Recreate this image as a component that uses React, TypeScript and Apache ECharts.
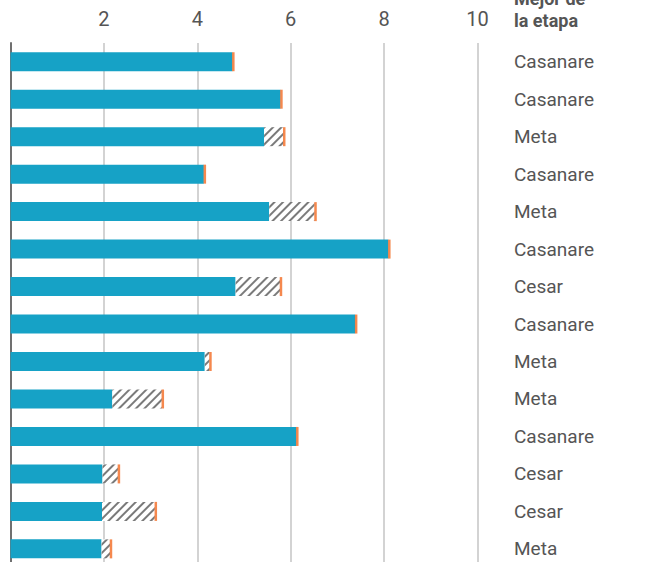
import React, { useEffect, useRef } from "react";
import * as echarts from "echarts";

const regions = [
  "Casanare", "Casanare", "Meta", "Casanare", "Meta", "Casanare", "Cesar",
  "Casanare", "Meta", "Meta", "Casanare", "Cesar", "Cesar", "Meta",
];
const baseValues = [4.75, 5.78, 5.43, 4.14, 5.54, 8.09, 4.82, 7.38, 4.16, 2.18, 6.12, 1.97, 1.96, 1.95];
const topValues = [4.75, 5.78, 5.84, 4.14, 6.51, 8.09, 5.77, 7.38, 4.26, 3.24, 6.12, 2.3, 3.09, 2.13];
const xTicks = [0, 2, 4, 6, 8, 10];
const headerText = "Mejor de\nla etapa";

const FONT = "Roboto";

export default function App() {
  const ref = useRef<HTMLDivElement>(null);
  useEffect(() => {
    if (!ref.current) return;
    const chart = echarts.init(ref.current, null, { renderer: "svg" });
    const cats = regions.map((_, i) => String(i));
    const hatch = topValues.map((t, i) => +(t - baseValues[i]).toFixed(3));
    chart.setOption({
      animation: false,
      grid: { left: 10.5, top: 43, width: 467, height: 524.6, containLabel: false },
      xAxis: {
        type: "value",
        position: "top",
        min: xTicks[0],
        max: xTicks[xTicks.length - 1],
        interval: 2,
        axisLine: { show: false },
        axisTick: { show: false },
        axisLabel: {
          fontFamily: FONT,
          fontSize: 20,
          color: "#555",
          margin: 14,
          formatter: (v: number) => (v === 0 ? "" : String(v)),
        },
        splitLine: { show: true, lineStyle: { color: "#c4c4c4", width: 1.5 } },
      },
      yAxis: [
        {
          type: "category",
          data: cats,
          inverse: true,
          position: "left",
          axisLine: { show: true, lineStyle: { color: "#707070", width: 2 } },
          axisTick: { show: false },
          axisLabel: { show: false },
        },
        {
          type: "category",
          data: cats,
          inverse: true,
          position: "right",
          axisLine: { show: false },
          axisTick: { show: false },
          axisLabel: {
            fontFamily: FONT,
            fontSize: 19,
            color: "#555",
            align: "left",
            margin: 36.5,
            formatter: (v: string) => regions[Number(v)],
          },
        },
      ],
      graphic: [
        {
          type: "text",
          left: 514,
          top: -13,
          style: {
            text: headerText,
            fontFamily: FONT,
            fontWeight: "bold",
            fontSize: 18,
            lineHeight: 22,
            fill: "#555",
          },
        },
      ],
      series: [
        {
          type: "bar",
          stack: "s",
          yAxisIndex: 0,
          data: baseValues,
          barWidth: 19,
          itemStyle: { color: "#16a2c6" },
        },
        {
          type: "bar",
          stack: "s",
          yAxisIndex: 0,
          data: hatch,
          barWidth: 19,
          itemStyle: {
            color: "#ffffff",
            decal: {
              symbol: "rect",
              color: "#7a7a7a",
              dashArrayX: [1, 0],
              dashArrayY: [1.4, 3.6],
              rotation: -Math.PI / 4,
              symbolSize: 1,
            },
          },
        },
        {
          type: "scatter",
          yAxisIndex: 0,
          data: topValues.map((v, i) => [v, String(i)]),
          symbol: "rect",
          symbolSize: [2.5, 19],
          symbolOffset: [1, 0],
          itemStyle: { color: "#f26a22" },
          z: 5,
        },
      ],
    });
    return () => chart.dispose();
  }, []);
  return (
    <div
      style={{
        position: "absolute",
        left: 0,
        top: 0,
        width: 647,
        height: 562,
        overflow: "hidden",
      }}
    >
      <div ref={ref} style={{ width: 647, height: 585 }} />
    </div>
  );
}
